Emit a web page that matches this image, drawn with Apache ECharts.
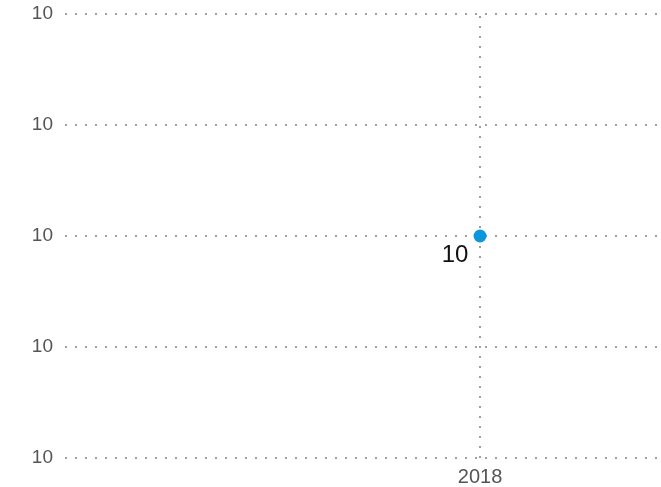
<!DOCTYPE html>
<html><head><meta charset="utf-8">
<script src="https://cdn.jsdelivr.net/npm/echarts@6/dist/echarts.min.js"></script>
<style>html,body{margin:0;padding:0;background:#fff}#c{width:661px;height:487px}</style>
</head><body><div id="c"></div>
<script>
const categories = ['2018'];
const values = [10];
const yTicks = [9.6, 9.8, 10, 10.2, 10.4];
const xRange = [2017, 2018.436];

const chart = echarts.init(document.getElementById('c'), null, {renderer: 'canvas'});
const dotted = {color: '#a0a0a0', width: 2, type: [2, 8]};
const pts = categories.map((c, i) => [Number(c), values[i]]);
chart.setOption({
  animation: false,
  grid: {left: 65, right: 0, top: 14, bottom: 29, containLabel: false},
  xAxis: {
    type: 'value', min: xRange[0], max: xRange[1], interval: 1,
    axisLine: {show: false}, axisTick: {show: false}, splitLine: {show: false},
    axisLabel: {color: '#555', fontSize: 20, fontFamily: 'Liberation Sans', margin: 9,
      showMinLabel: true, showMaxLabel: false,
      formatter: v => categories.indexOf(String(Math.round(v))) >= 0 && Math.abs(v - Math.round(v)) < 1e-6 ? String(Math.round(v)) : ''}
  },
  yAxis: {
    type: 'value', min: yTicks[0], max: yTicks[yTicks.length - 1], interval: 0.2,
    axisLine: {show: false}, axisTick: {show: false},
    splitLine: {show: true, lineStyle: dotted},
    axisLabel: {color: '#555', fontSize: 19, fontFamily: 'Liberation Sans', margin: 12,
      formatter: v => String(Math.round(v))}
  },
  series: [{
    type: 'line', data: pts, symbol: 'circle', symbolSize: 13,
    itemStyle: {color: '#0c96dc'},
    label: {show: true, position: 'inside', offset: [-25, 19], color: '#111',
      fontSize: 24, fontFamily: 'Liberation Sans', formatter: p => String(p.value[1])},
    markLine: {silent: true, symbol: 'none', label: {show: false},
      lineStyle: dotted, data: pts.map(p => ({xAxis: p[0]}))},
    z: 5
  }]
});
</script></body></html>
